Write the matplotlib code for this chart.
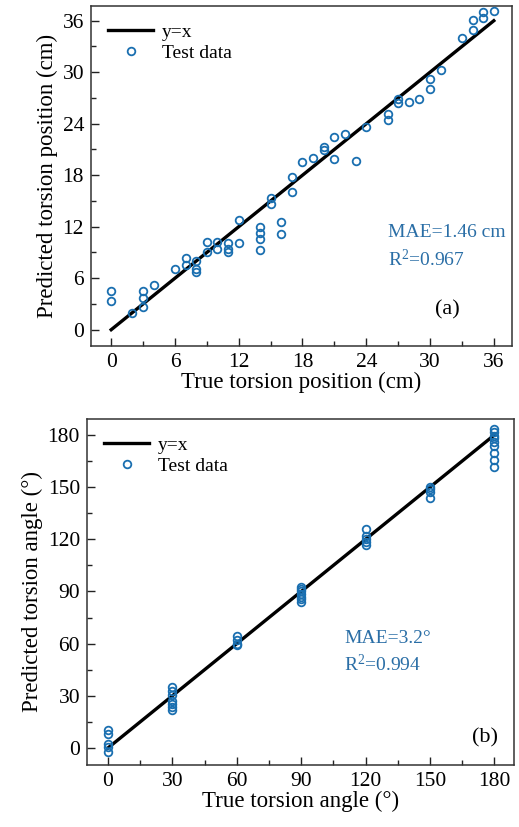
import matplotlib
matplotlib.use("Agg")
import matplotlib.pyplot as plt
import numpy as np

plt.rcParams['font.family'] = ['Liberation Serif', 'DejaVu Serif']
plt.rcParams['mathtext.fontset'] = 'custom'
plt.rcParams['mathtext.rm'] = 'Liberation Serif'
plt.rcParams['mathtext.default'] = 'regular'

# ---- Panel (a): torsion position ----
pos_true = [0, 0, 2, 3, 3, 3, 4, 6, 7, 7, 8, 8, 8, 9, 9, 10, 10, 11, 11, 11,
            12, 12, 14, 14, 14, 14, 15, 15, 16, 16, 17, 17, 18, 19, 20, 20,
            21, 21, 22, 23, 24, 26, 26, 27, 27, 28, 29, 30, 30, 31, 33, 34,
            34, 35, 35, 36]
pos_pred = [4.5, 3.4, 2.0, 4.5, 3.7, 2.7, 5.2, 7.1, 8.3, 7.5, 8.0, 7.1, 6.7,
            10.2, 9.0, 10.2, 9.4, 10.1, 9.4, 9.0, 12.8, 10.1, 12.0, 11.3, 10.6,
            9.3, 15.3, 14.7, 12.6, 11.1, 16.0, 17.8, 19.5, 20.0, 21.3, 20.9,
            22.4, 19.9, 22.8, 19.7, 23.6, 25.1, 24.4, 26.9, 26.4, 26.5, 26.9,
            29.2, 28.1, 30.3, 34.0, 34.9, 36.1, 36.3, 37.0, 37.1]
pos_line = [0, 36]
pos_ticks = [0, 6, 12, 18, 24, 30, 36]

# ---- Panel (b): torsion angle ----
ang_true = [0, 0, 0, 0, 0,
            30, 30, 30, 30, 30, 30, 30,
            60, 60, 60, 60,
            90, 90, 90, 90, 90, 90, 90,
            120, 120, 120, 120, 120,
            150, 150, 150, 150,
            180, 180, 180, 180, 180, 180, 180, 180, 180]
ang_pred = [10.5, 8.2, 2.5, 0.3, -2.4,
            35.3, 32.5, 30.5, 27.2, 25.0, 23.3, 21.9,
            64.6, 62.0, 59.8, 59.0,
            92.4, 91.2, 90.0, 88.5, 87.0, 85.5, 84.0,
            126.0, 122.0, 120.0, 118.5, 116.5,
            150.3, 148.8, 147.2, 143.5,
            183.5, 181.5, 179.5, 178.0, 176.0, 173.5, 169.5, 165.5, 161.5]
ang_line = [0, 180]
ang_ticks = [0, 30, 60, 90, 120, 150, 180]

blue = '#1a6fb0'
txt_blue = '#2a6ea6'

fig = plt.figure(figsize=(5.19, 8.27), dpi=100)
ax1 = fig.add_axes([0.1753, 0.5816, 0.811, 0.411])
ax2 = fig.add_axes([0.1676, 0.075, 0.823, 0.4184])


def style(ax, ticks, lim, minor_step):
    ax.set_xlim(*lim)
    ax.set_ylim(*lim)
    ax.set_xticks(ticks)
    ax.set_yticks(ticks)
    ax.set_xticks(np.arange(ticks[0], ticks[-1] + 0.01, minor_step), minor=True)
    ax.set_yticks(np.arange(ticks[0], ticks[-1] + 0.01, minor_step), minor=True)
    ax.tick_params(which='both', direction='in', top=False, right=False,
                   labelsize=15.5, width=1.0, colors='#222222', labelcolor='black')
    ax.tick_params(which='major', length=6, pad=5)
    ax.tick_params(which='minor', length=3.5)
    for s in ax.spines.values():
        s.set_linewidth(1.1)
        s.set_color('#333333')


for ax, t, p, ln, ticks, lim, ms in [
        (ax1, pos_true, pos_pred, pos_line, pos_ticks, (-1.9, 37.7), 3),
        (ax2, ang_true, ang_pred, ang_line, ang_ticks, (-9.8, 189.2), 15)]:
    ax.plot(ln, ln, color='black', lw=2.4, label='y=x', zorder=2)
    ax.plot(t, p, linestyle='none', marker='o', markersize=5.5,
            markerfacecolor='none', markeredgecolor=blue, markeredgewidth=1.3,
            label='Test data', zorder=3)
    style(ax, ticks, lim, ms)
    ax.legend(loc='upper left', frameon=False, fontsize=14, handlelength=2.3,
              handletextpad=0.45, borderaxespad=0.5, labelspacing=0.15,
              borderpad=0.4)

ax1.set_xlabel('True torsion position (cm)', fontsize=16.5, labelpad=0)
ax1.set_ylabel('Predicted torsion position (cm)', fontsize=16.5, labelpad=3)
ax2.set_xlabel('True torsion angle (°)', fontsize=16.5, labelpad=0)
ax2.set_ylabel('Predicted torsion angle (°)', fontsize=16.5, labelpad=3)

ax1.text(26.0, 11.3, 'MAE=1.46 cm', color=txt_blue, fontsize=14, va='center', ha='left')
ax1.text(26.0, 8.2, 'R$^{2}$=0.967', color=txt_blue, fontsize=14, va='center', ha='left')
ax1.text(31.6, 2.3, '(a)', color='black', fontsize=16, va='center', ha='center')

ax2.text(110.0, 63.0, 'MAE=3.2°', color=txt_blue, fontsize=14, va='center', ha='left')
ax2.text(110.0, 47.8, 'R$^{2}$=0.994', color=txt_blue, fontsize=14, va='center', ha='left')
ax2.text(175.8, 6.0, '(b)', color='black', fontsize=16, va='center', ha='center')

fig.savefig('out.png', dpi=100)
